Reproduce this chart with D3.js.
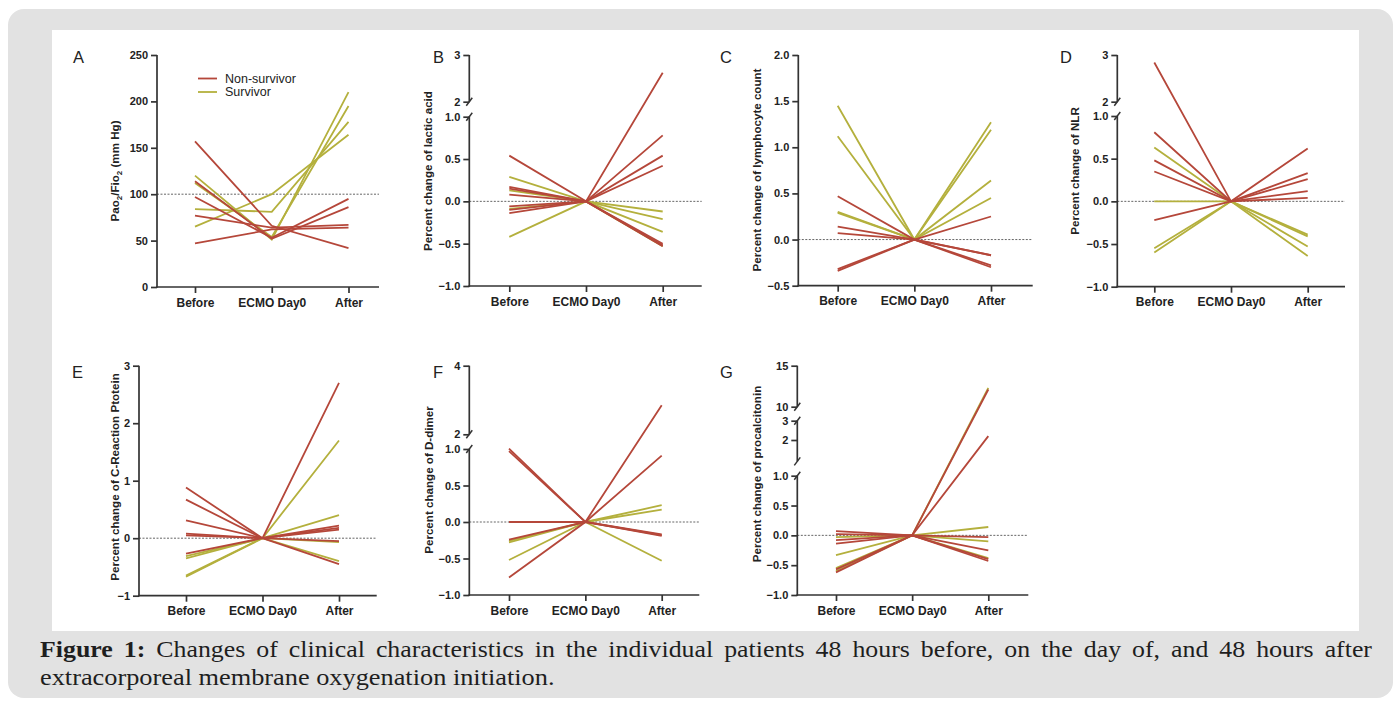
<!DOCTYPE html>
<html>
<head>
<meta charset="utf-8">
<script src="https://cdn.jsdelivr.net/npm/d3@7"></script>
<style>
  body { margin: 0; background: #fff; }
  svg { display: block; }
  .tick text { font-family: "Liberation Sans", Arial, sans-serif; font-weight: bold; fill: #222; }
</style>
</head>
<body>
<svg id="chart" width="1394" height="706"></svg>
<script>
var categories = ['Before', 'ECMO Day0', 'After']

// each row is one patient: [Before, ECMO Day0, After]
var paoNon = [[157, 66, 42], [114, 52, 86], [97, 53, 95], [77, 64, 67], [47, 62, 64]]
var paoSurv = [[65, 100, 164], [84, 81, 178], [120, 51, 210], [112, 54, 195]]

var lacticNon = [[0.54, 0, -0.52], [0.17, 0, 0.78], [0.15, 0, -0.53], [0.08, 0, 0.54], [-0.06, 0, 0.42], [-0.1, 0, 2.62], [-0.14, 0, -0.5]]
var lacticSurv = [[0.29, 0, -0.21], [0.13, 0, -0.12], [-0.09, 0, -0.53], [-0.42, 0, -0.36]]

var lymphNon = [[0.47, 0, -0.3], [0.14, 0, -0.17], [0.07, 0, -0.28], [-0.32, 0, 0.25], [-0.34, 0, -0.17]]
var lymphSurv = [[1.45, 0, 0.64], [1.12, 0, 0.45], [0.3, 0, 1.27], [0.29, 0, 1.19]]

var nlrNon = [[2.84, 0, 0.12], [0.81, 0, 0.33], [0.48, 0, 0.26], [0.35, 0, 0.04], [-0.22, 0, 0.62]]
var nlrSurv = [[0.63, 0, -0.53], [0, 0, -0.39], [-0.55, 0, -0.64], [-0.6, 0, -0.41]]

var crpNon = [[0.88, 0, -0.45], [0.67, 0, 0.22], [0.31, 0, -0.05], [0.08, 0, 0.18], [0.05, 0, 0.15], [-0.27, 0, 2.7]]
var crpSurv = [[-0.31, 0, 0.4], [-0.35, 0, -0.4], [-0.65, 0, 1.7], [-0.67, 0, -0.07]]

var dimerNon = [[1.02, 0, -0.17], [0.97, 0, -0.19], [0, 0, 0.91], [-0.76, 0, 2.85], [-0.24, 0, -0.18]]
var dimerSurv = [[-0.26, 0, 0.23], [-0.28, 0, 0.17], [-0.52, 0, -0.53]]

var pctNon = [[0.07, 0, -0.43], [0.02, 0, -0.25], [-0.08, 0, -0.03], [-0.14, 0, -0.4], [-0.57, 0, 12.1], [-0.62, 0, 2.2]]
var pctSurv = [[-0.03, 0, -0.1], [-0.33, 0, 0.14], [-0.55, 0, 12.3], [-0.6, 0, -0.38]]

var ticksA = [0, 50, 100, 150, 200, 250]
var ticksBD = [-1, -0.5, 0, 0.5, 1, 2, 3]
var ticksC = [-0.5, 0, 0.5, 1, 1.5, 2]
var ticksE = [-1, 0, 1, 2, 3]
var ticksF = [-1, -0.5, 0, 0.5, 1, 2, 4]
var ticksG = [-1, -0.5, 0, 0.5, 1, 2, 3, 10, 15]

var legendNames = ['Non-survivor', 'Survivor']
var caption1 = 'Changes of clinical characteristics in the individual patients 48 hours before, on the day of, and 48 hours after'
var caption2 = 'extracorporeal membrane oxygenation initiation.'

var colNon = '#b5473a'
var colSurv = '#b4b03d'
var axisCol = '#333'
var sans = '"Liberation Sans", Arial, sans-serif'

// a decimal label, except for the integer ticks above a break
function fmtBreak (d) { return d > 1 ? String(d) : d3.format('.1f')(d) }

var panels = [
  { letter: 'A', non: paoNon, surv: paoSurv, title: 'pao', left: 157, right: 379, xr: [195, 348.5],
    dom: [0, 250], rng: [287, 55], ticks: ticksA, fmt: d3.format('d'), ref: 100, segs: [[0, 250]],
    lx: 73, ly: 63, tx: 115, ty: 171 },
  { letter: 'B', non: lacticNon, surv: lacticSurv, title: 'Percent change of lactic acid', left: 469.3, right: 701.7, xr: [509.3, 662.7],
    dom: [-1, 1, 2, 3], rng: [286, 116.7, 101.7, 55], ticks: ticksBD, fmt: fmtBreak, ref: 0, segs: [[-1, 1], [2, 3]],
    lx: 433, ly: 63, tx: 428.3, ty: 171 },
  { letter: 'C', non: lymphNon, surv: lymphSurv, title: 'Percent change of lymphocyte count', left: 798.3, right: 1032.7, xr: [837.7, 991],
    dom: [-0.5, 2], rng: [285.7, 55], ticks: ticksC, fmt: d3.format('.1f'), ref: 0, segs: [[-0.5, 2]],
    lx: 720, ly: 63, tx: 756.7, ty: 170 },
  { letter: 'D', non: nlrNon, surv: nlrSurv, title: 'Percent change of NLR', left: 1117.3, right: 1345, xr: [1154.3, 1307.7],
    dom: [-1, 1, 2, 3], rng: [286.7, 116, 101.7, 55], ticks: ticksBD, fmt: fmtBreak, ref: 0, segs: [[-1, 1], [2, 3]],
    lx: 1060, ly: 63, tx: 1075, ty: 171 },
  { letter: 'E', non: crpNon, surv: crpSurv, title: 'Percent change of C-Reaction Ptotein', left: 139, right: 376.7, xr: [186, 339],
    dom: [-1, 3], rng: [595.7, 365.7], ticks: ticksE, fmt: d3.format('d'), ref: 0, segs: [[-1, 3]],
    lx: 72, ly: 378, tx: 115, ty: 477 },
  { letter: 'F', non: dimerNon, surv: dimerSurv, title: 'Percent change of D-dimer', left: 469.3, right: 699.3, xr: [509, 661.7],
    dom: [-1, 1, 2, 4], rng: [595, 449, 434.3, 365.7], ticks: ticksF, fmt: fmtBreak, ref: 0, segs: [[-1, 1], [2, 4]],
    lx: 433, ly: 378, tx: 429.3, ty: 480 },
  { letter: 'G', non: pctNon, surv: pctSurv, title: 'Percent change of procalcitonin', left: 797.3, right: 1028.3, xr: [836, 988.3],
    dom: [-1, 1, 2, 3, 10, 15], rng: [595, 475.7, 440, 420.7, 406.7, 365.7], ticks: ticksG, fmt: fmtBreak, ref: 0, segs: [[-1, 1], [1.4, 3], [10, 15]],
    lx: 720, ly: 378, tx: 756.7, ty: 474 }
]

var svg = d3.select('#chart')

// page frame
svg.append('rect').attr('x', 8).attr('y', 9).attr('width', 1385).attr('height', 689)
  .attr('rx', 16).attr('fill', '#e2e2e2')
svg.append('rect').attr('x', 52).attr('y', 30).attr('width', 1307).attr('height', 601)
  .attr('fill', '#fff')

panels.forEach(function (p) {
  var g = svg.append('g')
  var x = d3.scalePoint().domain(categories).range(p.xr)
  var y = d3.scaleLinear().domain(p.dom).range(p.rng)
  var baseY = p.rng[0]

  // reference line
  g.append('line')
    .attr('x1', p.left).attr('x2', p.right)
    .attr('y1', y(p.ref)).attr('y2', y(p.ref))
    .attr('stroke', '#666').attr('stroke-width', 1).attr('stroke-dasharray', '2,1.5')

  var line = d3.line()
    .x(function (d, i) { return x(categories[i]) })
    .y(function (d) { return y(d) })

  g.selectAll('path.surv').data(p.surv).enter().append('path')
    .attr('class', 'surv').attr('d', line)
    .attr('fill', 'none').attr('stroke', colSurv).attr('stroke-width', 1.8)
  g.selectAll('path.non').data(p.non).enter().append('path')
    .attr('class', 'non').attr('d', line)
    .attr('fill', 'none').attr('stroke', colNon).attr('stroke-width', 1.8)

  // y axis
  var ya = g.append('g').attr('transform', 'translate(' + p.left + ',0)')
    .call(d3.axisLeft(y).tickValues(p.ticks).tickFormat(p.fmt).tickSize(6).tickPadding(3))
  ya.select('.domain').remove()
  ya.selectAll('.tick line').attr('stroke', axisCol).attr('stroke-width', 1.7)
  ya.selectAll('.tick text').attr('font-size', 11)

  p.segs.forEach(function (s, i) {
    g.append('line')
      .attr('x1', p.left).attr('x2', p.left)
      .attr('y1', y(s[0]) + (i === 0 ? 0.85 : 0)).attr('y2', y(s[1]))
      .attr('stroke', axisCol).attr('stroke-width', 1.7)
    if (i > 0) {
      var yy = y(s[0])
      g.append('line').attr('x1', p.left - 3).attr('x2', p.left + 3)
        .attr('y1', yy + 4).attr('y2', yy - 4)
        .attr('stroke', axisCol).attr('stroke-width', 1.5)
    }
    if (i < p.segs.length - 1) {
      var yt = y(s[1])
      g.append('line').attr('x1', p.left - 3).attr('x2', p.left + 3)
        .attr('y1', yt + 4).attr('y2', yt - 4)
        .attr('stroke', axisCol).attr('stroke-width', 1.5)
    }
  })

  // x axis
  var xa = g.append('g').attr('transform', 'translate(0,' + baseY + ')')
    .call(d3.axisBottom(x).tickSize(6).tickPadding(5))
  xa.select('.domain').remove()
  xa.selectAll('.tick line').attr('stroke', axisCol).attr('stroke-width', 1.7)
  xa.selectAll('.tick text').attr('font-size', 12)
  g.append('line')
    .attr('x1', p.left - 0.85).attr('x2', p.right)
    .attr('y1', baseY).attr('y2', baseY)
    .attr('stroke', axisCol).attr('stroke-width', 1.7)

  // axis title
  var t = g.append('text')
    .attr('transform', 'translate(' + p.tx + ',' + p.ty + ') rotate(-90)')
    .attr('text-anchor', 'middle').attr('dy', '0.35em')
    .attr('font-family', sans)
    .attr('font-weight', 'bold').attr('font-size', 11.6).attr('fill', '#222')
  if (p.title === 'pao') {
    t.append('tspan').text('Pao')
    t.append('tspan').attr('dy', 3).attr('font-size', 8).text('2')
    t.append('tspan').attr('dy', -3).text('/Fio')
    t.append('tspan').attr('dy', 3).attr('font-size', 8).text('2')
    t.append('tspan').attr('dy', -3).text(' (mm Hg)')
  } else {
    t.text(p.title)
  }

  // panel letter
  g.append('text').attr('x', p.lx).attr('y', p.ly)
    .attr('font-family', sans)
    .attr('font-size', 16.5).attr('fill', '#222').text(p.letter)

  if (p.letter === 'A') {
    var leg = g.selectAll('g.leg').data(legendNames).enter().append('g')
      .attr('transform', function (d, i) { return 'translate(198,' + (78.5 + i * 13.5) + ')' })
    leg.append('line').attr('x1', 0).attr('x2', 19)
      .attr('stroke', function (d, i) { return i === 0 ? colNon : colSurv })
      .attr('stroke-width', 1.8)
    leg.append('text').attr('x', 27).attr('dy', '0.35em')
      .attr('font-family', sans)
      .attr('font-size', 12.5).attr('fill', '#222')
      .text(function (d) { return d })
  }
})

// caption: first line justified, glyphs slightly widened like the original face
var serif = '"Liberation Serif", "DejaVu Serif", serif'
var cap = svg.append('text').attr('x', 40).attr('y', 657)
  .attr('font-family', serif)
  .attr('font-size', 23.5).attr('fill', '#1e1e1e')
cap.append('tspan').attr('font-weight', 'bold').text('Figure 1:')
cap.append('tspan').text(' ' + caption1)
var natural = cap.node().getComputedTextLength()
var widen = Math.min(1.1, 1332 / natural)
var spaces = (('Figure 1: ' + caption1).match(/ /g) || []).length
cap.attr('word-spacing', (1332 - natural * widen) / spaces / widen)
  .attr('textLength', 1332).attr('lengthAdjust', 'spacingAndGlyphs')

var cap2 = svg.append('text').attr('x', 40).attr('y', 685)
  .attr('font-family', serif)
  .attr('font-size', 23.5).attr('fill', '#1e1e1e')
  .text(caption2)
cap2.attr('textLength', cap2.node().getComputedTextLength() * 1.12).attr('lengthAdjust', 'spacingAndGlyphs')
</script>
</body>
</html>
